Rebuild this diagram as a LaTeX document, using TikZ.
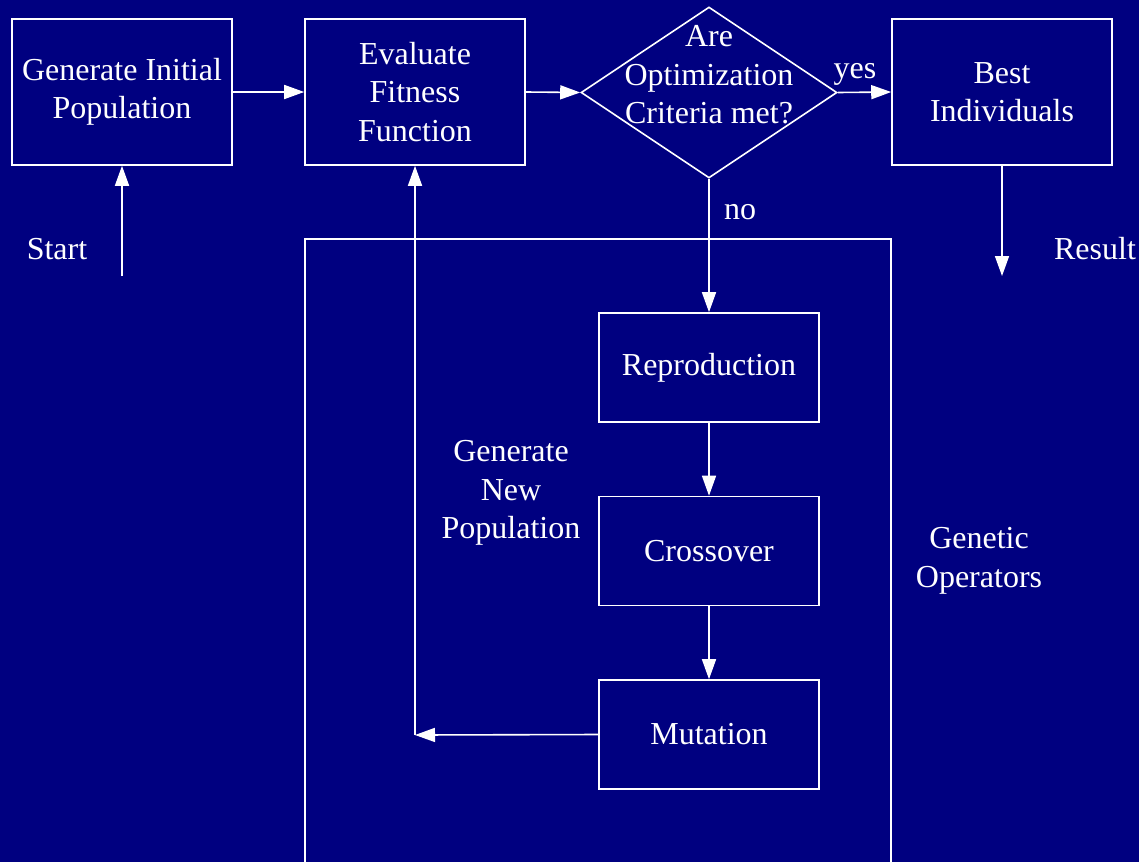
\documentclass[tikz,border=0pt]{standalone}
\usepackage{fontspec}
\setmainfont{Liberation Serif}
\usetikzlibrary{shapes.geometric,arrows.meta}
\definecolor{navy}{RGB}{0,0,128}
\begin{document}
\begin{tikzpicture}[x=1pt,y=-1pt,
  every node/.style={text=white,font=\fontsize{32}{38.5}\selectfont,align=center,inner sep=0pt},
  box/.style={draw=white,line width=1.6pt,minimum width=220pt,minimum height=146pt},
  opbox/.style={draw=white,line width=1.6pt,minimum width=220pt,minimum height=109pt},
  dia/.style={draw=white,line width=1.6pt,diamond,minimum width=256pt,minimum height=171pt},
  conn/.style={draw=white,line width=1.6pt,-{Triangle[length=20pt,width=14pt]}},
  plain/.style={draw=white,line width=1.6pt}]
\fill[navy] (0,0) rectangle (1139,862);
\useasboundingbox (0,0) rectangle (1139,862);

\node[box] (init) at (122,92) {Generate Initial\\Population};
\node[box] (eval) at (415,92) {Evaluate\\Fitness\\Function};
\node[dia] (crit) at (709,92.5) {};
\node (crittext) at (709,75) {Are\\Optimization\\Criteria met?};
\node[box] (best) at (1002,92) {Best\\Individuals};

\draw[plain] (305,862) -- (305,239) -- (891,239) -- (891,862);

\node[opbox] (repro) at (709,367.5) {Reproduction};
\node[opbox] (cross) at (709,551) {Crossover};
\node[opbox] (mut) at (709,734.5) {Mutation};

\node (start) at (57,249) {Start};
\node (result) at (1095,249) {Result};
\node (yes) at (855,74) {yes};
\node (no) at (740,212) {no};
\node (newpop) at (511,493) {Generate\\New\\Population};
\node (genop) at (979,561) {Genetic\\Operators};

\coordinate (startpt) at (122,276);
\coordinate (resultpt) at (1002,276);
\coordinate (corner) at (415,735);

\draw[conn] (startpt) -- (init.south);
\draw[conn] (init.east) -- (eval.west);
\draw[conn] (eval.east) -- (crit.west);
\draw[conn] (crit.east) -- (best.west);
\draw[conn] (best.south) -- (resultpt);
\draw[conn] (crit.south) -- (repro.north);
\draw[conn] (repro.south) -- (cross.north);
\draw[conn] (cross.south) -- (mut.north);
\draw[conn] (mut.west) -- (corner);
\draw[conn] (corner) -- (eval.south);
\end{tikzpicture}
\end{document}
